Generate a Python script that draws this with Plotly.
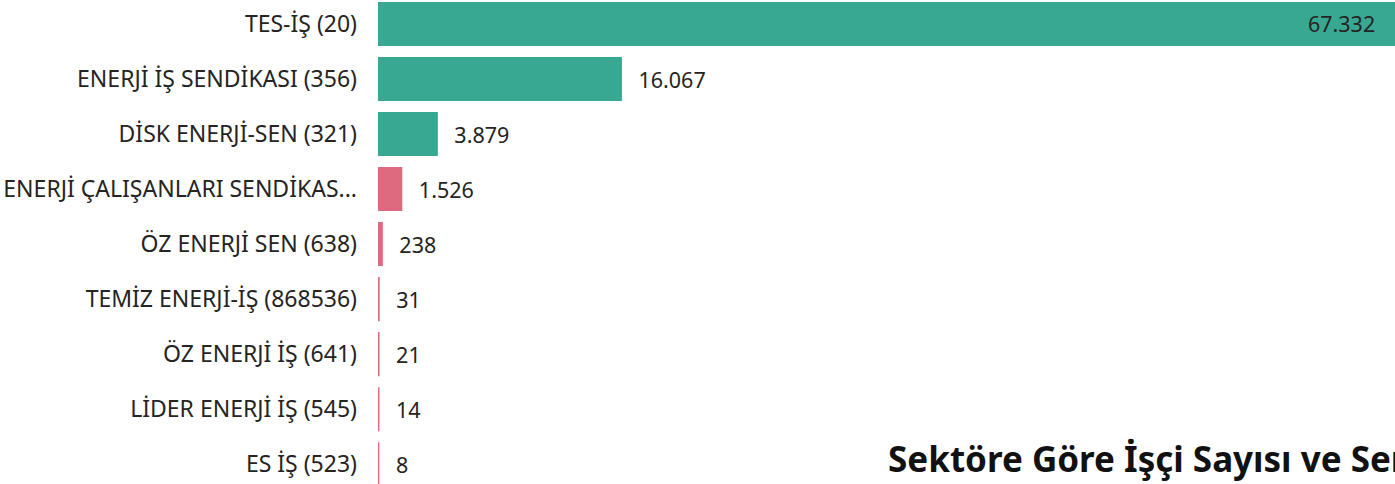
import plotly.graph_objects as go

categories = [
    "TES-İŞ (20)",
    "ENERJİ İŞ SENDİKASI (356)",
    "DİSK ENERJİ-SEN (321)",
    "ENERJİ ÇALIŞANLARI SENDİKAS...",
    "ÖZ ENERJİ SEN (638)",
    "TEMİZ ENERJİ-İŞ (868536)",
    "ÖZ ENERJİ İŞ (641)",
    "LİDER ENERJİ İŞ (545)",
    "ES İŞ (523)",
]
values = [67332, 16067, 3879, 1526, 238, 31, 21, 14, 8]
groups = ["a", "a", "a", "b", "b", "b", "b", "b", "b"]
title_text = "Sektöre Göre İşçi Sayısı ve Sendikalar"

TEAL = "#38A893"
PINK = "#DE6A80"
colors = [TEAL if g == "a" else PINK for g in groups]
positions = ["inside"] + ["outside"] * (len(values) - 1)
NB = "\u00a0"
texttemplates = [f"%{{x:,}}{NB*3}"] + [f"{NB*2}\u2006%{{x:,}}"] * (len(values) - 1)

fig = go.Figure(go.Bar(
    y=categories,
    x=values,
    orientation="h",
    marker=dict(color=colors, line=dict(color=colors, width=2.5)),
    textposition=positions,
    texttemplate=texttemplates,
    insidetextanchor="end",
    textangle=0,
    constraintext="none",
    textfont=dict(family="Noto Sans", size=21.5, color="#252423"),
    cliponaxis=False,
    hoverinfo="skip",
))

fig.update_layout(
    width=1395, height=484,
    margin=dict(l=378, r=0, t=0, b=0),
    plot_bgcolor="white", paper_bgcolor="white",
    separators=",.",
    bargap=0.245,
    showlegend=False,
    font=dict(family="Noto Sans", color="#252423"),
)
fig.update_xaxes(range=[0, 67332], visible=False, showgrid=False, zeroline=False)
fig.update_yaxes(
    categoryorder="array", categoryarray=categories,
    range=[8.36, -0.436],
    showgrid=False, zeroline=False, showline=False, ticks="",
    ticklabelstandoff=20,
    tickfont=dict(family="Noto Sans", size=23, color="#252423"),
)
fig.add_annotation(
    text=f"<b>{title_text}</b>", xref="paper", yref="paper",
    x=(886 - 378) / 1017, y=(484 - 458) / 484, xanchor="left", yanchor="middle",
    showarrow=False, font=dict(family="Noto Sans", size=35, color="#111111"),
)

fig.write_html(
    "out.html",
    config={"displayModeBar": False},
    post_script="document.body.style.margin='0';document.body.style.overflow='hidden';",
)
